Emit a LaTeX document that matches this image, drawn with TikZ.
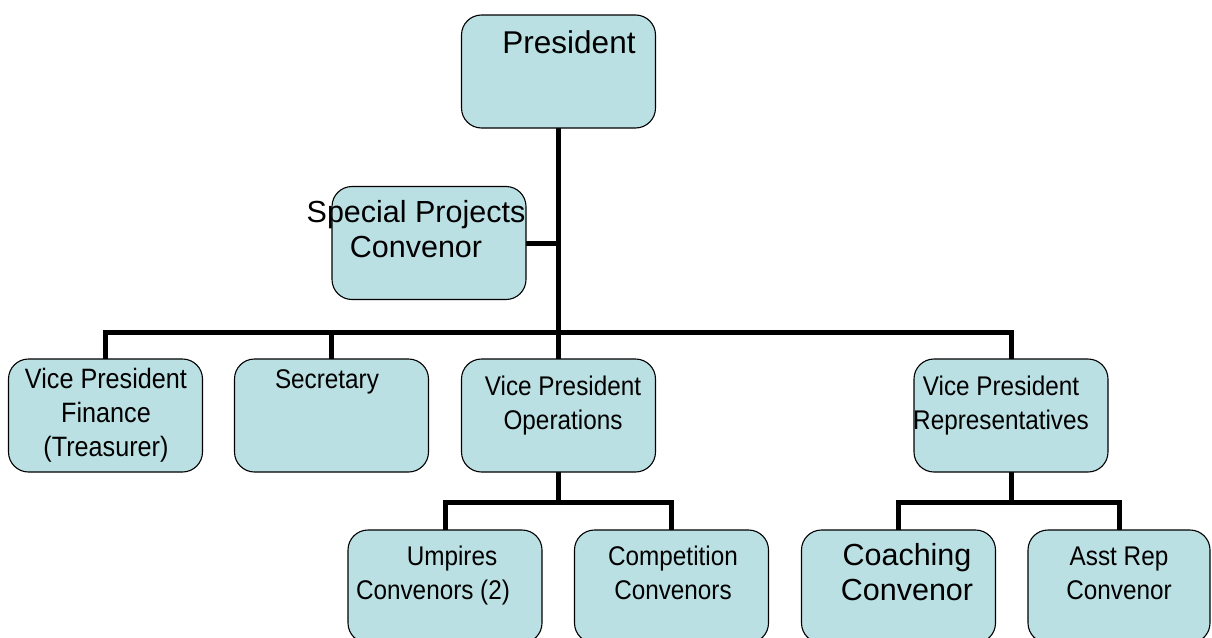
\documentclass[tikz,border=0pt]{standalone}
\usepackage{fontspec}
\setmainfont{Liberation Sans}
\newfontfamily\narrowsans[FakeStretch=0.9]{Liberation Sans}
\definecolor{boxfill}{RGB}{187,224,227}
\pgfdeclarelayer{background}
\pgfsetlayers{background,main}
\begin{document}
\begin{tikzpicture}[x=1pt,y=-1pt,
  orgbox/.style={draw=black, line width=1.1pt, fill=boxfill, rounded corners=20pt,
     minimum width=#1, minimum height=113pt, inner sep=0pt, outer sep=0pt},
  orgbox/.default=194pt,
  bigtxt/.style={inner sep=0pt, anchor=base, align=center,
     font=\fontsize{30.5}{35}\selectfont},
  nartxt/.style={inner sep=0pt, anchor=base, align=center,
     font=\narrowsans\fontsize{27}{34}\selectfont},
  link/.style={line width=5pt, line cap=rect, line join=miter}]
\useasboundingbox (0,0) rectangle (1212,637);
\clip (0,0) rectangle (1212,637);

% boxes
\node[orgbox] (pres) at (558.5,71.5) {};
\node[orgbox] (spc) at (429,243) {};
\node[orgbox] (vpf) at (105.5,415.5) {};
\node[orgbox] (sec) at (331.5,415.5) {};
\node[orgbox] (vpo) at (558.5,415.5) {};
\node[orgbox] (vpr) at (1011,415.5) {};
\node[orgbox] (ump) at (445,586.5) {};
\node[orgbox] (comp) at (671.5,586.5) {};
\node[orgbox] (coach) at (898.5,586.5) {};
\node[orgbox=182pt] (asst) at (1119,586.5) {};

% junctions
\coordinate (hub) at (558.5,332);
\coordinate (opsj) at (558.5,502);
\coordinate (repj) at (1011,502);

% connectors
\begin{pgfonlayer}{background}
\draw[link] (pres.south) -- (hub);
\draw[link] (spc.east) -- (spc.east -| hub);
\draw[link] (vpf.north) |- (hub) -| (vpr.north);
\draw[link] (sec.north) -- (sec.north |- hub);
\draw[link] (hub) -- (vpo.north);
\draw[link] (vpo.south) -- (opsj);
\draw[link] (ump.north) |- (opsj) -| (comp.north);
\draw[link] (vpr.south) -- (repj);
\draw[link] (coach.north) |- (repj) -| (asst.north);
\end{pgfonlayer}

% texts (anchor = baseline of last line)
\node[bigtxt, font=\fontsize{31.5}{35}\selectfont] (presT) at (569,53) {President};
\node[bigtxt] (spcT) at (416,257) {Special Projects\\Convenor};
\node[nartxt, font=\narrowsans\fontsize{28}{34}\selectfont] (vpfT) at (106,456) {Vice President\\Finance\\(Treasurer)};
\node[nartxt] (secT) at (327,388) {Secretary};
\node[nartxt] (vpoT) at (563,429) {Vice President\\Operations};
\node[nartxt] (vprT) at (1001,429) {Vice President\\Representatives};
\node[nartxt] (umpT) at (433,599) {\hspace*{38pt}Umpires\\Convenors (2)};
\node[nartxt] (compT) at (673,599) {Competition\\Convenors};
\node[bigtxt] (coachT) at (907,600) {Coaching\\Convenor};
\node[nartxt] (asstT) at (1119,599) {Asst Rep\\Convenor};
\end{tikzpicture}
\end{document}
